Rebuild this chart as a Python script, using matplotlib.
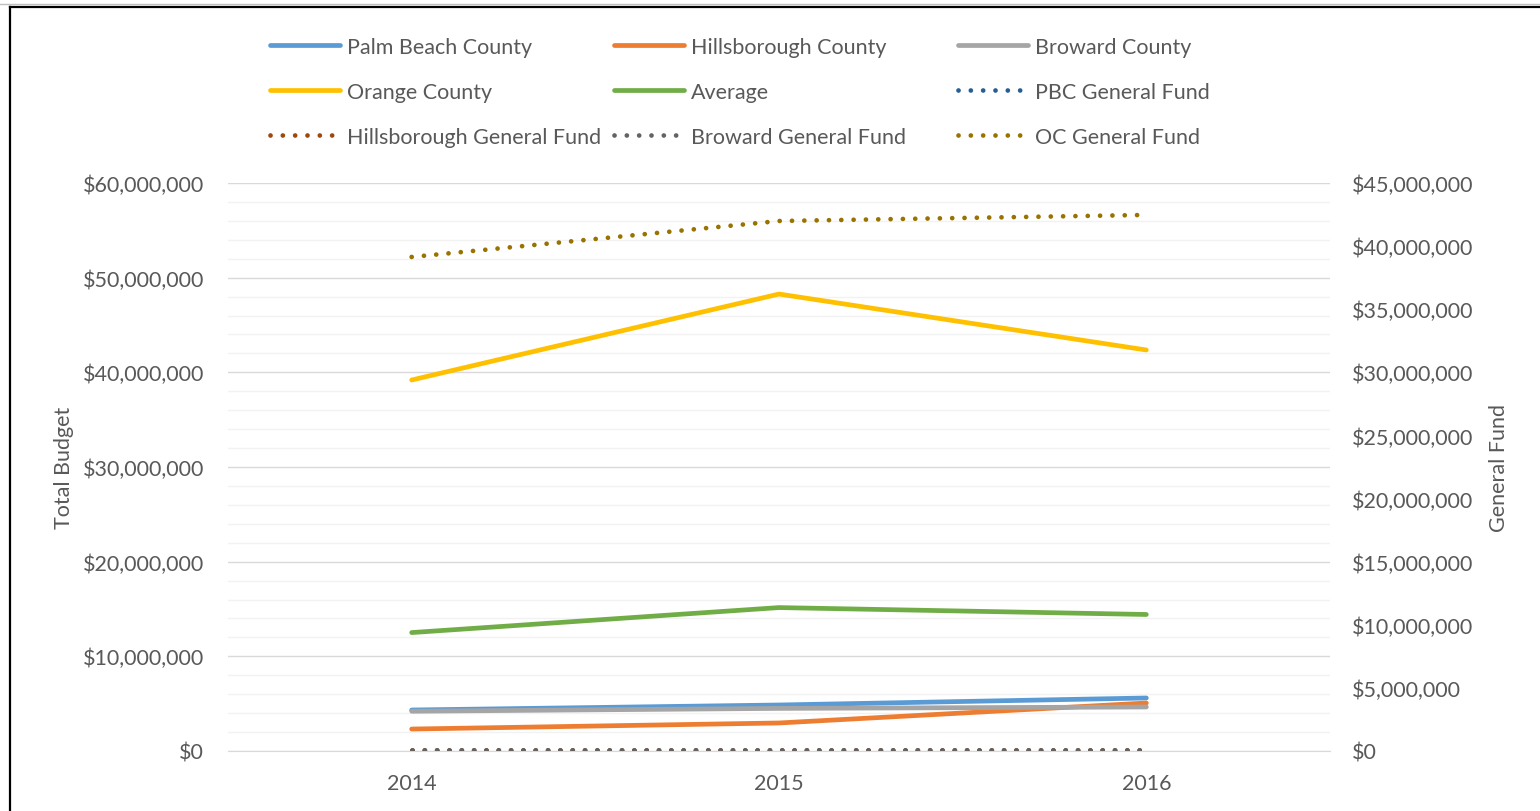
import matplotlib
matplotlib.use("Agg")
import matplotlib.pyplot as plt
from matplotlib.ticker import MultipleLocator, FuncFormatter
from matplotlib.lines import Line2D

years = ["2014", "2015", "2016"]
palm_beach = [4.33e6, 4.86e6, 5.60e6]
hillsborough = [2.32e6, 2.96e6, 5.07e6]
broward = [4.20e6, 4.50e6, 4.65e6]
orange = [39.19e6, 48.27e6, 42.36e6]
average = [12.51e6, 15.15e6, 14.42e6]
pbc_gf = [0.06e6, 0.06e6, 0.06e6]
hills_gf = [0.07e6, 0.07e6, 0.07e6]
broward_gf = [0.08e6, 0.08e6, 0.08e6]
oc_gf = [39.14e6, 41.99e6, 42.47e6]

FONT = "Lato"
TXT = "#595959"
FS = 15.5
plt.rcParams["font.family"] = [FONT, "DejaVu Sans"]

W, H = 1540, 812
fig = plt.figure(figsize=(W / 100, H / 100), dpi=100)
ax = fig.add_axes([228 / W, (H - 752) / H, 1102 / W, 568 / H])
ax2 = ax.twinx()

x = list(range(len(years)))
lw = 3.4
solid = [
    (palm_beach, "#5B9BD5", "Palm Beach County"),
    (hillsborough, "#ED7D31", "Hillsborough County"),
    (broward, "#A5A5A5", "Broward County"),
    (orange, "#FFC000", "Orange County"),
    (average, "#70AD47", "Average"),
]
dotted = [
    (pbc_gf, "#255E91", "PBC General Fund"),
    (hills_gf, "#9E480E", "Hillsborough General Fund"),
    (broward_gf, "#636363", "Broward General Fund"),
    (oc_gf, "#997300", "OC General Fund"),
]
handles = {}
for vals, c, lab in solid:
    (h,) = ax.plot(x, vals, color=c, lw=lw, solid_capstyle="round", label=lab, zorder=3)
    handles[lab] = h
dot_ls = (0, (0.01, 2.6))
for vals, c, lab in dotted:
    (h,) = ax2.plot(x, vals, color=c, lw=3.4, linestyle=dot_ls, dash_capstyle="round", label=lab, zorder=3)
    handles[lab] = h

ax.set_xlim(-0.5, 2.5)
ax.set_ylim(0, 60e6)
ax2.set_ylim(0, 45e6)
ax.set_xticks(x)
ax.set_xticklabels(years)
ax.yaxis.set_major_locator(MultipleLocator(10e6))
ax.yaxis.set_minor_locator(MultipleLocator(2e6))
ax2.yaxis.set_major_locator(MultipleLocator(5e6))
fmt = FuncFormatter(lambda v, p: "${:,.0f}".format(v))
ax.yaxis.set_major_formatter(fmt)
ax2.yaxis.set_major_formatter(fmt)
ax.grid(True, which="major", axis="y", color="#D9D9D9", lw=1.0, zorder=0)
ax.grid(True, which="minor", axis="y", color="#F2F2F2", lw=1.0, zorder=0)
ax.set_axisbelow(True)
for a in (ax, ax2):
    for s in a.spines.values():
        s.set_visible(False)
ax.spines["bottom"].set_visible(True)
ax.spines["bottom"].set_color("#D9D9D9")
for a in (ax, ax2):
    a.tick_params(axis="both", which="both", length=0, labelsize=FS, labelcolor=TXT)
ax.tick_params(axis="y", pad=17.3)
ax2.tick_params(axis="y", pad=15.8)
ax.tick_params(axis="x", pad=16.0)
ax.set_ylabel("Total Budget", fontsize=FS, color=TXT)
ax2.set_ylabel("General Fund", fontsize=FS, color=TXT)
ax.yaxis.set_label_coords((74 - 228) / 1102, 0.5)
ax2.yaxis.set_label_coords((1489 - 228) / 1102, 0.5)

columns = [
    ["Palm Beach County", "Orange County", "Hillsborough General Fund"],
    ["Hillsborough County", "Average", "Broward General Fund"],
    ["Broward County", "PBC General Fund", "OC General Fund"],
]
col_x = [270, 614, 958]
for cx, labs in zip(col_x, columns):
    fig.legend([handles[k] for k in labs], labs, ncol=1, loc="upper left",
               bbox_to_anchor=(cx / W, 1 - 38 / H), frameon=False, fontsize=FS,
               handlelength=70 / 21.5, handletextpad=0.33, borderpad=0,
               borderaxespad=0, labelspacing=1.15, labelcolor=TXT)

# frame
fig.add_artist(Line2D([0, 1], [1 - 5 / H, 1 - 5 / H], color="#BFBFBF", lw=1, transform=fig.transFigure))
fig.add_artist(Line2D([10 / W, 1], [1 - 7.5 / H, 1 - 7.5 / H], color="black", lw=1.6, transform=fig.transFigure))
fig.add_artist(Line2D([10 / W, 10 / W], [0, 1 - 7.5 / H], color="black", lw=1.6, transform=fig.transFigure))

fig.savefig("out.png", dpi=100)
